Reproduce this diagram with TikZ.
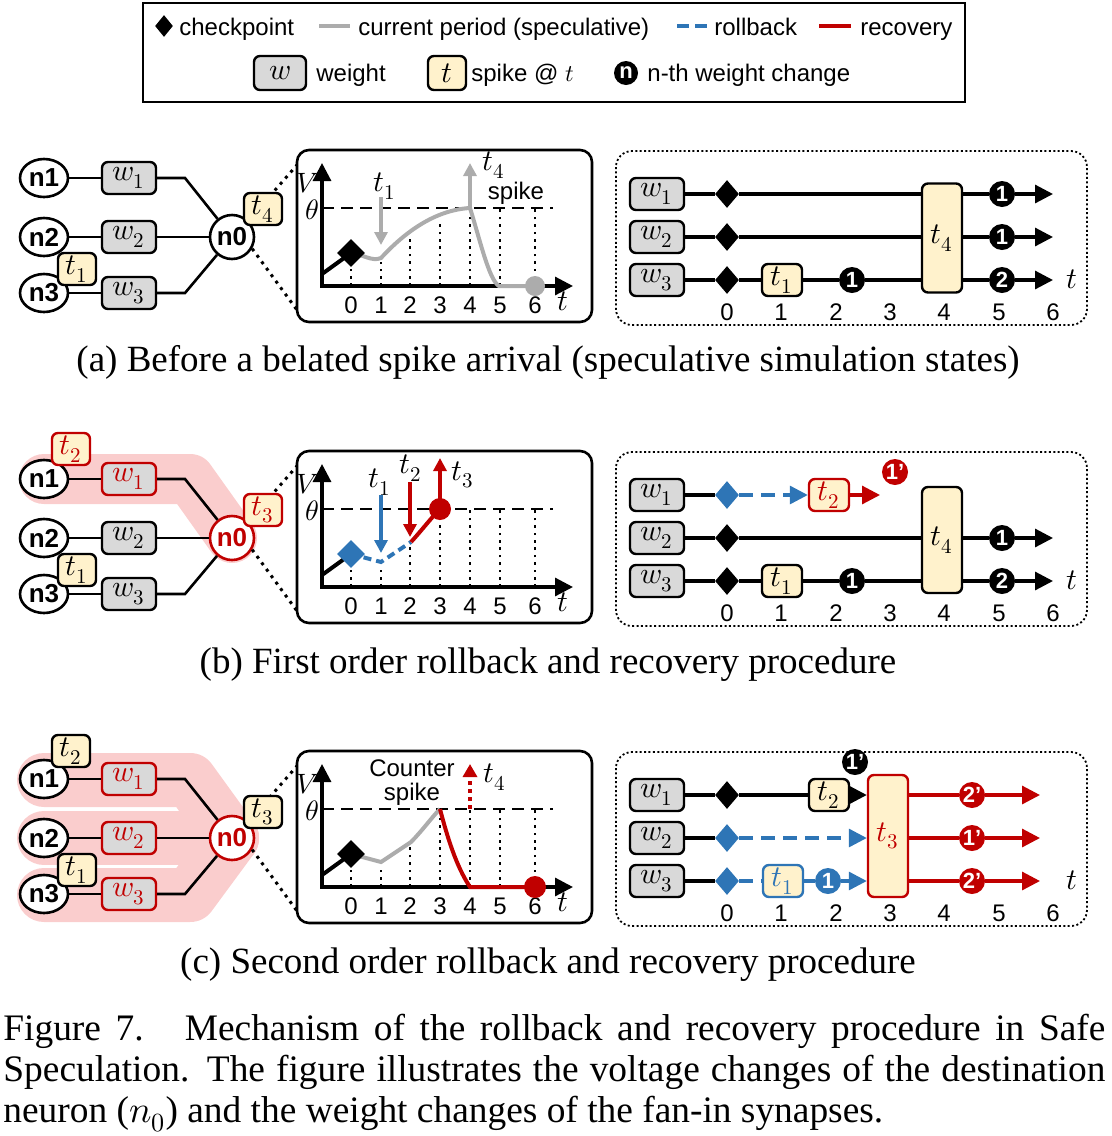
\documentclass[tikz,border=0pt]{standalone}
\usepackage{fontspec}
\usepackage{unicode-math}
\setmainfont{Liberation Serif}
\setsansfont{Liberation Sans}
\usetikzlibrary{arrows.meta,shapes.geometric,positioning}

\definecolor{wgray}{RGB}{217,217,217}
\definecolor{syellow}{RGB}{255,242,204}
\definecolor{rred}{RGB}{192,0,0}
\definecolor{rblue}{RGB}{46,117,182}
\definecolor{sgray}{RGB}{172,172,172}
\definecolor{hpink}{RGB}{250,205,205}

% fan-in network: #1 n0, #2 w1, #3 w2, #4 w3 colour
\newcommand{\fanin}[4]{%
	\node[neuron] (n1) at (44,178) {n1};
	\node[neuron] (n2) at (44,237) {n2};
	\node[neuron] (n3) at (44,293) {n3};
	\node[weight, draw=#2, text=#2] (w1) at (129,178) {$w_1$};
	\node[weight, draw=#3, text=#3] (w2) at (129,237) {$w_2$};
	\node[weight, draw=#4, text=#4] (w3) at (129,293) {$w_3$};
	\node[soma, draw=#1, text=#1] (n0) at (232,237) {n0};
	\coordinate (k1) at (185,178);
	\coordinate (k3) at (185,293);
	\coordinate (z1) at (297,165);
	\coordinate (z2) at (297,310);
	\draw[wire] (n1) -- (w1);
	\draw[wire] (n2) -- (w2);
	\draw[wire] (n3) -- (w3);
	\draw[wire] (w1) -- (k1) -- (n0);
	\draw[wire] (w2) -- (n0);
	\draw[wire] (w3) -- (k3) -- (n0);
	\draw[zoomdot] (n0.45) -- (z1);
	\draw[zoomdot] (n0.-30) -- (z2);
	\node[spk] (s1) at (77,269) {$t_1$};
}

% voltage plot: #1 tops of the dotted guides
\newcommand{\vplot}[1]{%
	\draw[plotbox] (297,150) rectangle (592,322);
	\draw[thr] (322,208) -- (553,208);
	\foreach \x/\h in {#1}
		\draw[vdot] (\x,286) -- (\x,\h);
	\draw[vaxis] (322,163) -- (322,286) -- (573,286);
	\foreach \x [count=\i from 0] in {351,381,410,440,470,500,535}
		\node[ticklab] (g\i) at (\x,305) {\i};
	\node[mlab, font=\fontsize{14}{14}\selectfont] (gV) at (308,183) {$V$};
	\node[mlab, font=\fontsize{14}{14}\selectfont] (gth) at (312,210) {$\theta$};
	\node[mlab] (gt) at (563,301) {$t$};
}

% weight timeline frame
\newcommand{\tline}{%
	\draw[tbox] (616,151) rectangle (1087,325);
	\node[weight] (tw1) at (657,194) {$w_1$};
	\node[weight] (tw2) at (657,237) {$w_2$};
	\node[weight] (tw3) at (657,280) {$w_3$};
	\foreach \x [count=\i from 0] in {727,781,836,890,944,999,1053}
		\node[ticklab] (x\i) at (\x,312) {\i};
	\node[mlab] (tt) at (1072,279) {$t$};
}

\begin{document}
\begin{tikzpicture}[x=0.5pt, y=-0.5pt,
	neuron/.style={ellipse, draw, fill=white, line width=1.3pt, minimum width=24pt, minimum height=19pt, inner sep=0pt, font=\sffamily\bfseries\fontsize{13}{13}\selectfont},
	soma/.style={circle, draw, fill=white, line width=1.3pt, minimum size=22pt, inner sep=0pt, font=\sffamily\bfseries\fontsize{13}{13}\selectfont},
	weight/.style={draw, fill=wgray, rounded corners=3pt, line width=1.2pt, minimum width=27pt, minimum height=16pt, inner sep=0pt, font=\fontsize{15}{15}\selectfont},
	spk/.style={draw, fill=syellow, rounded corners=3pt, line width=1.2pt, minimum width=19pt, minimum height=16pt, inner sep=0pt, font=\fontsize{15}{15}\selectfont},
	tall/.style={minimum width=20pt, minimum height=#1},
	ckpt/.style={diamond, fill=black, inner sep=0pt, minimum width=12pt, minimum height=14pt},
	chg/.style={circle, fill=black, text=white, inner sep=0pt, minimum size=13pt, font=\sffamily\bfseries\fontsize{11}{11}\selectfont},
	wire/.style={line width=1.3pt},
	zoomdot/.style={line width=1.5pt, dash pattern=on 1.5pt off 2.5pt},
	ticklab/.style={font=\sffamily\fontsize{12}{12}\selectfont, inner sep=0pt},
	dlab/.style={font=\sffamily\fontsize{12}{13}\selectfont, inner sep=0pt},
	mlab/.style={font=\fontsize{15}{15}\selectfont, inner sep=0pt},
	capfont/.style={font=\fontsize{18.5}{20}\selectfont, inner sep=0pt},
	plotbox/.style={line width=1.3pt, rounded corners=6pt},
	tbox/.style={line width=0.9pt, dash pattern=on 1pt off 1.2pt, rounded corners=8pt},
	thr/.style={line width=1.2pt, dash pattern=on 6pt off 3.5pt},
	vdot/.style={line width=1.3pt, dash pattern=on 1.3pt off 2.4pt},
	vaxis/.style={line width=1.6pt, {Triangle[length=9pt,width=9pt]}-{Triangle[length=9pt,width=9pt]}},
	ln/.style={line width=2pt},
	spec/.style={line width=2pt, sgray},
	rec/.style={line width=2pt, rred},
	bdash/.style={line width=2pt, rblue, dash pattern=on 4pt off 2.5pt},
	rdot/.style={line width=2pt, rred, dash pattern=on 2pt off 2pt, -{Triangle[length=6.5pt,width=7pt]}},
	sarrow/.style={line width=1.8pt, -{Triangle[length=6.5pt,width=6.5pt]}},
	tl/.style={line width=1.6pt},
	tlarrow/.style={tl, -{Triangle[length=9pt,width=9pt]}},
	tdash/.style={tl, rblue, dash pattern=on 7pt off 4pt},
	band/.style={line width=#1, hpink, line cap=round, line join=round}]

	\useasboundingbox (0,0) rectangle (1112,1136);

	%Legende
	\draw[line width=1pt] (143,3) rectangle (965,102);
	\node[ckpt, minimum width=9pt, minimum height=11pt] (lk) at (164,26) {};
	\node[dlab, anchor=base west] (lkt) at (179,35) {checkpoint};
	\draw[spec] (319,26) -- (350,26);
	\node[dlab, anchor=base west] (lst) at (358,35) {current period (speculative)};
	\draw[bdash, dash pattern=on 6pt off 3pt] (677,26) -- (709,26);
	\node[dlab, anchor=base west] (lrt) at (714,35) {rollback};
	\draw[rec] (819,26) -- (851,26);
	\node[dlab, anchor=base west] (lvt) at (860,35) {recovery};
	\node[weight, minimum width=26pt, minimum height=17pt] (lw) at (280,73) {$w$};
	\node[dlab, anchor=base west] (lwt) at (316,81) {weight};
	\node[spk, minimum height=17pt] (ls) at (447,73) {$t$};
	\node[dlab, anchor=base west] (lsp) at (471,81) {spike @ $t$};
	\node[chg, minimum size=12pt] (lc) at (626,73) {n};
	\node[dlab, anchor=base west] (lct) at (647,81) {n-th weight change};

	%(a)
	\begin{scope}
		\fanin{black}{black}{black}{black}
		\node[spk] (s4) at (263,209) {$t_4$};
		\vplot{351/268,381/262,410/236,440/220,470/208,500/208,535/208}
		\draw[ln] (322,274) -- (351,253);
		\draw[spec] (351,253) .. controls (362,254) and (372,262) .. (381,258)
			.. controls (405,232) and (435,210) .. (470,208)
			.. controls (480,240) and (489,280) .. (499,286) -- (535,286);
		\node[ckpt, minimum width=14pt] (ga0) at (351,253) {};
		\fill[sgray] (535,286) circle (5pt);
		\draw[sarrow, sgray] (381,197) -- (381,245);
		\node[mlab] (gat1) at (385,186) {$t_1$};
		\draw[sarrow, sgray] (470,208) -- (470,163);
		\node[mlab] (gat4) at (494,165) {$t_4$};
		\node[dlab] (gasp) at (516,193) {spike};

		\tline
		\foreach \r/\y in {1/194,2/237,3/280}
			\node[ckpt] (d\r) at (727,\y) {};
		\node[spk, minimum width=20pt] (p1) at (782,280) {$t_1$};
		\node[chg] (c0) at (852,280) {1};
		\node[spk, tall=54.5pt] (p4) at (942,238) {$t_4$};
		\foreach \r/\y/\l in {1/194/1,2/237/1,3/280/2}{
			\node[chg] (c\r) at (1002,\y) {\l};
			\coordinate (e\r) at (1053,\y);
			\draw[tlarrow] (p4.east |- c\r) -- (c\r) -- (e\r);
		}
		\draw[tl] (tw1) -- (d1) -- (d1 -| p4.west);
		\draw[tl] (tw2) -- (d2) -- (d2 -| p4.west);
		\draw[tl] (tw3) -- (d3) -- (p1) -- (c0) -- (c0 -| p4.west);

		\node[capfont] (capa) at (548,362) {(a) Before a belated spike arrival (speculative simulation states)};
	\end{scope}

	%(b)
	\begin{scope}[shift={(0,301)}]
		\draw[band=25pt] (44,178) -- (190,178) -- (232,237);
		\fanin{rred}{rred}{black}{black}
		\node[spk, draw=rred, text=rred] (s2) at (71,148) {$t_2$};
		\node[spk, draw=rred, text=rred] (s3) at (263,209) {$t_3$};
		\vplot{351/268,381/264,410/243,440/213,470/208,500/208,535/208}
		\draw[ln] (322,274) -- (351,253);
		\draw[bdash] (351,253) -- (381,261) -- (411,241);
		\draw[rec] (411,241) .. controls (422,229) and (431,217) .. (440,208);
		\node[ckpt, fill=rblue, minimum width=14pt] (gb0) at (351,253) {};
		\fill[rred] (440,208) circle (5.5pt);
		\draw[sarrow, rblue] (381,194) -- (381,252);
		\node[mlab] (gbt1) at (380,181) {$t_1$};
		\draw[sarrow, rred] (410,181) -- (410,236);
		\node[mlab] (gbt2) at (411,167) {$t_2$};
		\draw[sarrow, rred] (440,208) -- (440,157);
		\node[mlab] (gbt3) at (463,174) {$t_3$};

		\tline
		\node[ckpt, fill=rblue] (d1) at (727,194) {};
		\node[ckpt] (d2) at (727,237) {};
		\node[ckpt] (d3) at (727,280) {};
		\node[spk, draw=rred, text=rred, minimum width=20pt] (p2) at (829,194) {$t_2$};
		\coordinate (e1) at (880,194);
		\node[chg, fill=rred] (cr) at (895,171) {1’};
		\node[spk, minimum width=20pt] (p1) at (782,280) {$t_1$};
		\node[chg] (c0) at (852,280) {1};
		\node[spk, tall=53pt] (p4) at (942,239) {$t_4$};
		\foreach \r/\y/\l in {2/237/1,3/280/2}{
			\node[chg] (c\r) at (1002,\y) {\l};
			\coordinate (e\r) at (1053,\y);
			\draw[tlarrow] (p4.east |- c\r) -- (c\r) -- (e\r);
		}
		\draw[tl] (tw1) -- (d1);
		\draw[tdash, -{Triangle[length=9pt,width=9pt]}] (d1) -- (p2);
		\draw[tlarrow, rred] (p2) -- (e1);
		\draw[tl] (tw2) -- (d2) -- (d2 -| p4.west);
		\draw[tl] (tw3) -- (d3) -- (p1) -- (c0) -- (c0 -| p4.west);

		\node[capfont] (capb) at (548,364) {(b) First order rollback and recovery procedure};
	\end{scope}

	%(c)
	\begin{scope}[shift={(0,601)}]
		\draw[band=27pt] (44,179) -- (190,179) -- (232,237);
		\draw[band=27pt] (44,237) -- (232,237);
		\draw[band=27pt] (44,294) -- (190,294) -- (232,237);
		\fanin{rred}{rred}{rred}{rred}
		\node[spk] (s2) at (71,150) {$t_2$};
		\node[spk] (s3) at (263,211) {$t_3$};
		\vplot{351/268,381/264,410/244,440/208,470/208,500/208,535/208}
		\draw[ln] (322,274) -- (351,253);
		\draw[spec] (351,253) -- (381,261) -- (411,241) .. controls (422,230) and (432,216) .. (440,208);
		\draw[rec] (440,208) .. controls (447,235) and (456,265) .. (470,286) -- (535,286);
		\node[ckpt, minimum width=14pt] (gc0) at (351,253) {};
		\fill[rred] (535,286) circle (5.5pt);
		\draw[rdot] (470,208) -- (470,163);
		\node[dlab] (gcc) at (412,167) {Counter};
		\node[dlab] (gcs) at (412,193) {spike};
		\node[mlab] (gct4) at (495,176) {$t_4$};

		\tline
		\node[ckpt] (d1) at (727,194) {};
		\node[ckpt, fill=rblue] (d2) at (727,237) {};
		\node[ckpt, fill=rblue] (d3) at (727,280) {};
		\node[spk, minimum width=20pt] (p2) at (829,194) {$t_2$};
		\node[spk, draw=rblue, text=rblue, minimum width=20pt] (p1) at (783,280) {$t_1$};
		\node[chg, fill=rblue] (cb) at (828,280) {1};
		\node[spk, tall=61pt, draw=rred, text=rred] (p3) at (888,235) {$t_3$};
		\node[chg] (cp) at (855,161) {1’};
		\foreach \r/\y/\l in {1/194/2’,2/237/1’,3/280/2’}{
			\node[chg, fill=rred] (r\r) at (972,\y) {\l};
			\coordinate (f\r) at (1040,\y);
			\draw[tlarrow, rred] (p3.east |- r\r) -- (r\r) -- (f\r);
		}
		\draw[tl] (tw1) -- (d1) -- (p2);
		\draw[tlarrow] (p2) -- (p2 -| p3.west);
		\draw[tl] (tw2) -- (d2);
		\draw[tdash, -{Triangle[length=9pt,width=9pt]}] (d2) -- (d2 -| p3.west);
		\draw[tl] (tw3) -- (d3);
		\draw[tdash] (d3) -- (p1) -- (cb);
		\draw[tdash, -{Triangle[length=9pt,width=9pt]}] (cb) -- (cb -| p3.west);

		\node[capfont] (capc) at (548,364) {(c) Second order rollback and recovery procedure};
	\end{scope}

	%Bildunterschrift
	\node[capfont, font=\fontsize{18.7}{20}\selectfont, anchor=base west] (fc1) at (3,1040)
		{\makebox[551pt][s]{Figure 7.\hspace{1.1em}Mechanism of the rollback and recovery procedure in Safe}};
	\node[capfont, font=\fontsize{18.7}{20}\selectfont, anchor=base west] (fc2) at (3,1081)
		{\makebox[551pt][s]{Speculation. The figure illustrates the voltage changes of the destination}};
	\node[capfont, font=\fontsize{18.7}{20}\selectfont, anchor=base west] (fc3) at (3,1122)
		{neuron ($n_0$) and the weight changes of the fan-in synapses.};
\end{tikzpicture}
\end{document}
